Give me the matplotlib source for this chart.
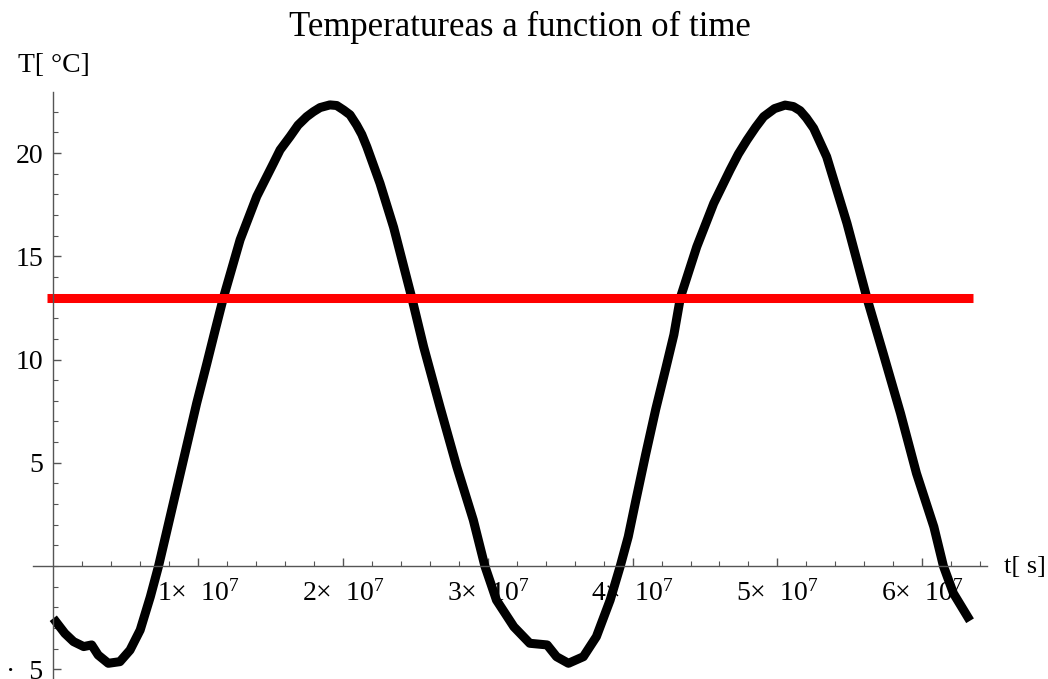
import matplotlib
matplotlib.use("Agg")
import matplotlib.pyplot as plt
from matplotlib.ticker import FixedLocator, MultipleLocator

# temperature curve (t in units of 1e7 s, T in degC)
t_vals = [0.00, 0.08, 0.14, 0.21, 0.265, 0.31, 0.38, 0.46, 0.53, 0.60,
          0.67, 0.727, 0.78, 0.85, 0.92, 0.99, 1.06, 1.117, 1.175, 1.29,
          1.405, 1.52, 1.566, 1.635, 1.69, 1.75, 1.796, 1.842, 1.91, 1.957,
          2.005, 2.049, 2.095, 2.13, 2.165, 2.256, 2.35, 2.475, 2.557, 2.67,
          2.786, 2.90, 2.98, 3.06, 3.18, 3.29, 3.41, 3.475, 3.557, 3.66,
          3.75, 3.845, 3.915, 3.97, 4.02, 4.09, 4.16, 4.23, 4.285, 4.33,
          4.443, 4.56, 4.673, 4.73, 4.79, 4.85, 4.905, 4.98, 5.053, 5.11,
          5.157, 5.20, 5.25, 5.34, 5.48, 5.617, 5.73, 5.85, 5.96, 6.08,
          6.146, 6.215, 6.33]
T_vals = [-2.53, -3.26, -3.66, -3.90, -3.82, -4.31, -4.71, -4.63, -4.07, -3.10,
          -1.49, 0.0, 1.58, 3.68, 5.78, 7.88, 9.8, 11.4, 13.0, 15.8,
          17.9, 19.5, 20.15, 20.8, 21.35, 21.76, 22.0, 22.2, 22.33, 22.3,
          22.08, 21.85, 21.35, 20.9, 20.3, 18.53, 16.4, 13.0, 10.62, 7.71,
          4.81, 2.23, 0.0, -1.65, -2.94, -3.74, -3.82, -4.39, -4.71, -4.39,
          -3.42, -1.65, 0.0, 1.42, 3.1, 5.4, 7.6, 9.6, 11.2, 13.0,
          15.46, 17.56, 19.18, 19.95, 20.63, 21.25, 21.76, 22.15, 22.32, 22.25,
          22.05, 21.7, 21.2, 19.82, 16.6, 13.0, 10.3, 7.39, 4.49, 1.90,
          0.0, -1.32, -2.65]

# mean temperature line
mean_t = [-0.04, 6.35]
mean_T = [13.0, 13.0]

x_major = [1, 2, 3, 4, 5, 6]
x_labels = ["%d×  $\\mathregular{10^{7}}$" % k for k in x_major]
y_major = [-5, 5, 10, 15, 20]
y_labels = ["·  5", "5", "10", "15", "20"]

plt.rcParams["font.family"] = ["Liberation Serif", "DejaVu Serif"]

fig = plt.figure(figsize=(10.48, 6.79), dpi=100)
ax = fig.add_axes([33 / 1048, 0, (987 - 33) / 1048, (679 - 92.3) / 679])

scale = 1e7
ax.plot([v * scale for v in t_vals], T_vals, color="black", lw=6.5,
        solid_capstyle="butt", solid_joinstyle="round", clip_on=False)
ax.plot([v * scale for v in mean_t], mean_T, color="#ff0000", lw=6.5,
        solid_capstyle="butt", clip_on=False)

ax.set_xlim(-0.14 * scale, 6.447 * scale)
ax.set_ylim(-5.47, 22.94)

# Mathematica style axes crossing at the origin
for side in ["top", "right"]:
    ax.spines[side].set_visible(False)
ax.spines["left"].set_position(("data", 0))
ax.spines["bottom"].set_position(("data", 0))
for side in ["left", "bottom"]:
    ax.spines[side].set_color("#555555")
    ax.spines[side].set_linewidth(1.0)

ax.xaxis.set_major_locator(FixedLocator([v * scale for v in x_major]))
ax.xaxis.set_minor_locator(FixedLocator([v * 0.2 * scale for v in range(1, 33) if v % 5]))
ax.set_xticklabels(x_labels)
ax.yaxis.set_major_locator(FixedLocator(y_major))
ax.yaxis.set_minor_locator(MultipleLocator(1))
ax.set_yticklabels(y_labels)

ax.tick_params(which="major", direction="in", length=6, width=1, color="#555555",
               labelsize=20)
ax.tick_params(which="minor", direction="in", length=3.5, width=0.8, color="#555555")
ax.tick_params(axis="x", which="major", pad=10)
ax.tick_params(axis="y", which="major", pad=7)

fig.text(520 / 1048, 1 - 27 / 679, "Temperatureas a function of time",
         ha="center", va="center", fontsize=25)
fig.text(18 / 1048, 1 - 65 / 679, "T[ °C]", ha="left", va="center", fontsize=20)
fig.text(1004 / 1048, 1 - 567 / 679, "t[ s]", ha="left", va="center", fontsize=19)

fig.savefig("out.png", dpi=100)
